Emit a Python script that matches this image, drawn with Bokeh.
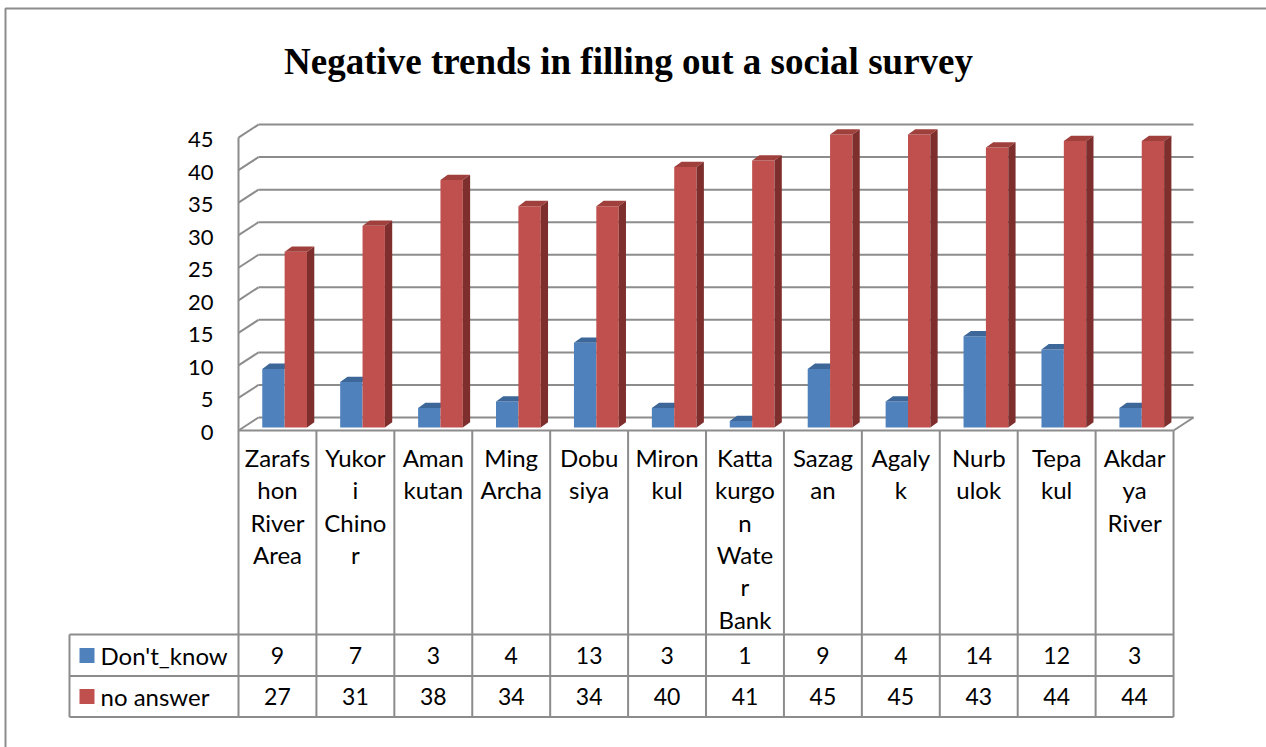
from bokeh.plotting import figure
from bokeh.models import Range1d, ColumnDataSource
from bokeh.core.properties import value
from bokeh.embed import file_html
from bokeh.resources import INLINE

# ---- data ----------------------------------------------------------------
title_text = "Negative trends in filling out a social survey"
categories = ["Zarafshon River Area", "Yukori Chinor", "Amankutan", "Ming Archa",
              "Dobusiya", "Mironkul", "Kattakurgon Water Bank", "Sazagan",
              "Agalyk", "Nurbulok", "Tepakul", "Akdarya River"]
# wrapped category labels as they appear in the data table cells
category_lines = [["Zarafs", "hon", "River", "Area"], ["Yukor", "i", "Chino", "r"],
                  ["Aman", "kutan"], ["Ming", "Archa"], ["Dobu", "siya"],
                  ["Miron", "kul"], ["Katta", "kurgo", "n", "Wate", "r", "Bank"],
                  ["Sazag", "an"], ["Agaly", "k"], ["Nurb", "ulok"],
                  ["Tepa", "kul"], ["Akdar", "ya", "River"]]
series_names = ["Don't_know", "no answer"]
dont_know = [9, 7, 3, 4, 13, 3, 1, 9, 4, 14, 12, 3]
no_answer = [27, 31, 38, 34, 34, 40, 41, 45, 45, 43, 44, 44]
y_ticks = [0, 5, 10, 15, 20, 25, 30, 35, 40, 45]

# ---- layout constants (pixels) ---------------------------------------------
W, H = 1266, 747
COL_PX = 77.92     # width of one category column
UNIT_PX = 6.51     # pixels per unit of value
LEFT_PX = 238      # left edge of first column
BASE_PX = 427      # value 0 at the front of the bars
WALL_DX, WALL_DY = 20, 13   # depth of the 3-D walls
BAR_DX, BAR_DY = 7.3, 5.3   # depth of the bars
BAR_OFF = 0.305    # bar start inside its column (column units)
BAR_W = 0.287      # width of one bar (column units)

FONT = value("Lato")
GRID = "#8c8c8c"
BLUE, BLUE_TOP = "#4F81BD", "#3D6798"
RED, RED_TOP, RED_SIDE = "#C0504D", "#A0403D", "#7E2F2D"


def X(px):
    return (px - LEFT_PX) / COL_PX


def Y(py):
    return (BASE_PX - py) / UNIT_PX


def ddx(px):
    return px / COL_PX


def ddy(py):
    return py / UNIT_PX


n = len(categories)

p = figure(width=W, height=H, output_backend="svg", toolbar_location=None,
           x_range=Range1d(X(0), X(W)), y_range=Range1d(Y(H), Y(0)),
           x_axis_location=None, y_axis_location=None, min_border=0,
           background_fill_color="white", border_fill_color="white")
p.grid.visible = False
p.outline_line_color = None

# ---- outer chart border ----------------------------------------------------
p.line(x=[X(5), X(5), X(W + 20)], y=[Y(H + 20), Y(8), Y(8)],
       line_color=GRID, line_width=2)

# ---- 3-D walls: back gridlines, side wall diagonals, floor -----------------
front0 = Y(430)
back0 = Y(430 - WALL_DY)
xs_grid, ys_grid = [], []
for v in y_ticks:
    xs_grid.append([ddx(WALL_DX), n + ddx(WALL_DX)])
    ys_grid.append([back0 + v, back0 + v])
    xs_grid.append([0, ddx(WALL_DX)])
    ys_grid.append([front0 + v, back0 + v])
# floor right edge
xs_grid.append([n, n + ddx(WALL_DX)])
ys_grid.append([front0, back0])
# front edge of side wall, continuing as table border
xs_grid.append([0, 0])
ys_grid.append([Y(716.5), front0 + y_ticks[-1]])
p.multi_line(xs=xs_grid, ys=ys_grid, line_color=GRID, line_width=2)

# ---- y tick labels -----------------------------------------------------------
p.text(x=[X(213)] * len(y_ticks), y=[Y(432) + v for v in y_ticks],
       text=[str(v) for v in y_ticks], text_font=FONT, text_font_size="22px",
       text_align="right", text_baseline="middle", text_color="black")

# ---- bars ------------------------------------------------------------------
bdx, bdy = ddx(BAR_DX), ddy(BAR_DY)
blue_left = [i + BAR_OFF for i in range(n)]
red_left = [i + BAR_OFF + BAR_W for i in range(n)]

p.quad(left=blue_left, right=[l + BAR_W for l in blue_left], bottom=0, top=dont_know,
       fill_color=BLUE, line_color=None)
p.patches(xs=[[l, l + BAR_W, l + BAR_W + bdx, l + bdx] for l in blue_left],
          ys=[[v, v, v + bdy, v + bdy] for v in dont_know],
          fill_color=BLUE_TOP, line_color=None)

p.quad(left=red_left, right=[l + BAR_W for l in red_left], bottom=0, top=no_answer,
       fill_color=RED, line_color=None)
p.patches(xs=[[l, l + BAR_W, l + BAR_W + bdx, l + bdx] for l in red_left],
          ys=[[v, v, v + bdy, v + bdy] for v in no_answer],
          fill_color=RED_TOP, line_color=None)
p.patches(xs=[[l + BAR_W, l + BAR_W + bdx, l + BAR_W + bdx, l + BAR_W] for l in red_left],
          ys=[[0, bdy, v + bdy, v] for v in no_answer],
          fill_color=RED_SIDE, line_color=None)

# ---- data table ------------------------------------------------------------
row_top, row_mid, row_bot = Y(634), Y(675.5), Y(716.5)
xs_t, ys_t = [], []
xs_t.append([0, n]); ys_t.append([front0, front0])
for yy in (row_top, row_mid, row_bot):
    xs_t.append([X(69), n]); ys_t.append([yy, yy])
xs_t.append([X(69), X(69)]); ys_t.append([row_bot, row_top])
for i in range(1, n + 1):
    xs_t.append([i, i]); ys_t.append([row_bot, front0])
p.multi_line(xs=xs_t, ys=ys_t, line_color=GRID, line_width=2)

# category labels, one text per wrapped line
lx, ly, lt = [], [], []
for i, lines in enumerate(category_lines):
    for k, s in enumerate(lines):
        lx.append(i + 0.5)
        ly.append(Y(457 + 32.3 * k))
        lt.append(s)
p.text(x=lx, y=ly, text=lt, text_font=FONT, text_font_size="24px",
       text_align="center", text_baseline="middle", text_color="black")

# legend keys and series names
row_centers = [Y(655), Y(696)]
p.scatter(x=[X(86.5)] * 2, y=row_centers, marker="square", size=15,
          fill_color=[BLUE, RED], line_color=None)
p.text(x=[X(100)] * 2, y=row_centers, text=series_names, text_font=FONT,
       text_font_size="24px", text_align="left", text_baseline="middle",
       text_color="black")

# values
vals = ColumnDataSource(dict(
    x=[i + 0.5 for i in range(n)] * 2,
    y=[row_centers[0]] * n + [row_centers[1]] * n,
    t=[str(v) for v in dont_know] + [str(v) for v in no_answer]))
p.text(x="x", y="y", text="t", source=vals, text_font=FONT, text_font_size="23px",
       text_align="center", text_baseline="middle", text_color="black")

# ---- title -----------------------------------------------------------------
p.text(x=[X(628)], y=[Y(61)], text=[title_text], text_font=value("Liberation Serif"),
       text_font_size="37px", text_font_style="bold", text_align="center",
       text_baseline="middle", text_color="black")

open("out.html", "w").write(file_html(p, INLINE))
